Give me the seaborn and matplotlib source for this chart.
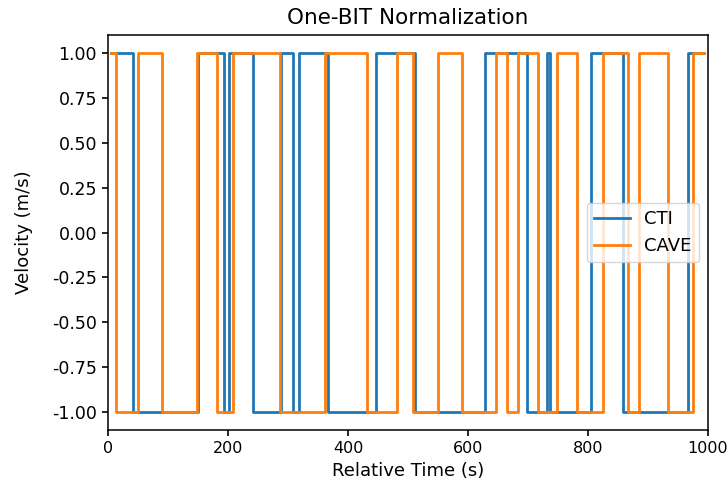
import matplotlib
matplotlib.use("Agg")
import matplotlib.pyplot as plt
import numpy as np
import pandas as pd
import seaborn as sns

# Switching times (s) of the one-bit normalized signals; each starts at +1
t_start = 5
t_end = 993
cti_switches = [42, 150, 193, 202, 242, 288, 308, 318, 367, 447, 512, 628,
                698, 732, 737, 805, 858, 967]
cave_switches = [13, 50, 90, 148, 182, 208, 287, 362, 432, 482, 508, 550,
                 590, 647, 665, 683, 717, 748, 782, 825, 867, 885, 933, 975]
series_names = ["CTI", "CAVE"]
series_colors = ["#1f77b4", "#ff7f0e"]


def step_frame(switches, name):
    times = [t_start] + list(switches) + [t_end]
    vals = [1.0]
    for _ in switches:
        vals.append(-vals[-1])
    vals.append(vals[-1])
    return pd.DataFrame({"time": times, "velocity": vals, "station": name})


frames = [step_frame(cti_switches, "CTI"), step_frame(cave_switches, "CAVE")]

fig = plt.figure(figsize=(7.28, 4.95), dpi=100)
ax = fig.add_axes([108 / 728, 1 - 430 / 495, 600 / 728, 395 / 495])

for df, name, color in zip(frames, series_names, series_colors):
    sns.lineplot(data=df, x="time", y="velocity", ax=ax, color=color,
                 label=name, drawstyle="steps-post", estimator=None,
                 sort=False, linewidth=2.0)

ax.set_xlim(0, 1000)
ax.set_ylim(-1.1, 1.1)
ax.set_yticks(np.arange(-1.0, 1.01, 0.25))
ax.yaxis.set_major_formatter(matplotlib.ticker.FormatStrFormatter("%.2f"))
ax.set_title("One-BIT Normalization", fontsize=15.5, pad=8)
ax.set_xlabel("Relative Time (s)", fontsize=13)
ax.set_ylabel("Velocity (m/s)", fontsize=13, labelpad=14)
ax.tick_params(axis="y", labelsize=12.5, width=1.2, length=4.5)
ax.tick_params(axis="x", labelsize=11.5, width=1.2, length=4.5)
for spine in ax.spines.values():
    spine.set_linewidth(1.1)
ax.legend(loc="center right", fontsize=13, handlelength=2.0)

fig.savefig("out.png", dpi=100)
